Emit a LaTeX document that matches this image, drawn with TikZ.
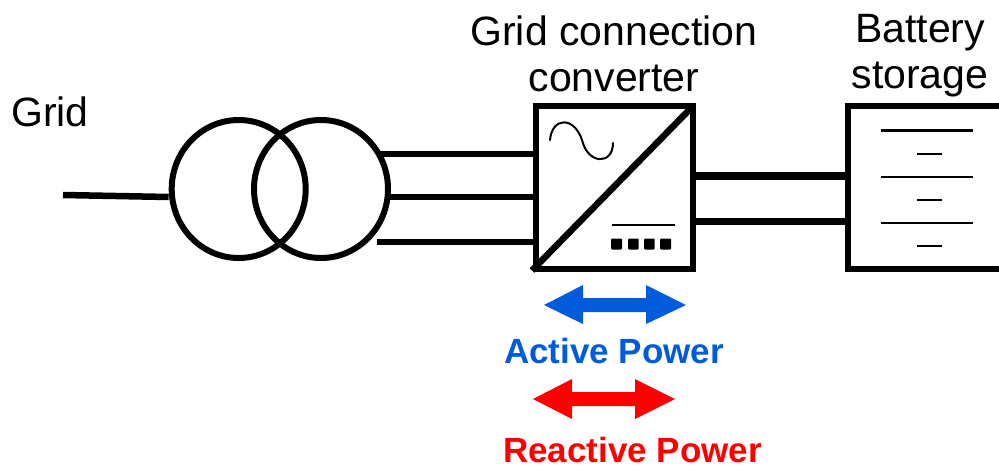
\documentclass[tikz,border=0pt]{standalone}
\usepackage{fontspec}
\usetikzlibrary{shapes.geometric}
\setmainfont{Liberation Sans}
\definecolor{activeblue}{RGB}{0,92,220}
\definecolor{reactred}{RGB}{255,0,0}
\tikzset{
  x=1pt,y=-1pt,
  wire/.style={draw=black,line width=6pt},
  thickwire/.style={draw=black,line width=8pt},
  boxed/.style={draw=black,line width=6pt,rectangle,inner sep=0pt,minimum width=157pt,minimum height=163pt},
  coil/.style={draw=black,line width=6pt,ellipse,inner sep=0pt,minimum width=134pt,minimum height=138pt},
  lbl/.style={font=\fontsize{41}{46}\selectfont,align=center,inner sep=0pt,text=black},
  plbl/.style={font=\fontsize{35}{40}\selectfont\bfseries,inner sep=0pt,anchor=base west},
  dbl/.style={fill=#1,draw=none},
  chip/.style={fill=black,rounded corners=1pt,draw=none}
}
\begin{document}
\begin{tikzpicture}
\useasboundingbox (0,0) rectangle (999,466);
% transformer
\node[coil] (t1) at (238.7,189) {};
\node[coil] (t2) at (321,189) {};
% converter and battery
\node[boxed] (conv) at (614.5,187.5) {};
\coordinate (gridend) at (63,195);
\draw[draw=black,line width=6.5pt] (gridend) -- (t1.west |- 0,197);
\coordinate (c1) at (conv.west |- 0,154);
\coordinate (c2) at (conv.west |- 0,197);
\coordinate (c3) at (conv.west |- 0,242);
\coordinate (s1) at (380,154);
\coordinate (s2) at (388,197);
\coordinate (s3) at (377,242);
\draw[wire] (s1) -- (c1);
\draw[wire] (s2) -- (c2);
\draw[wire] (s3) -- (c3);
\draw[black,line width=6.5pt] (532,270.5) -- (693,106);
\draw[black,line width=2pt,line cap=round] (550,140) .. controls (552,117) and (574,116) .. (582,140)
  .. controls (588,165) and (613,165) .. (613,143);
\draw[black,line width=1.5pt] (612,225) -- (675,225);
\foreach \a/\b in {611/622,628/638.5,644/654.5,660/671}
  \fill[chip] (\a,238.5) rectangle (\b,249.5);
% battery
\coordinate (bw) at (848,106);
\draw[black,line width=6pt] (1003,106) -- (bw) -- (848,269) -- (1003,269);
\coordinate (b1) at (848,176);
\coordinate (b2) at (848,221);
\coordinate (o1) at (conv.east |- b1);
\coordinate (o2) at (conv.east |- b2);
\draw[thickwire] (o1) -- (b1);
\draw[draw=black,line width=7pt] (o2) -- (b2);
\draw[black,line width=3pt] (881,130) -- (973,130);
\draw[black,line width=2.2pt] (881,177) -- (973,177);
\draw[black,line width=2.2pt] (881,223) -- (973,223);
\draw[black,line width=2.2pt] (917,154) -- (942,154);
\draw[black,line width=2.2pt] (917,200) -- (942,200);
\draw[black,line width=2.2pt] (917,246) -- (942,246);
% labels
\node[lbl] (lgrid) at (50,112) {Grid};
\node[lbl] (lconv) at (614,53.5) {Grid connection\\converter};
\node[lbl] (lbatt) at (920,55.5) {Battery\\storage};
% power arrows
\fill[dbl=activeblue] (544,305) -- (583,285) -- (583,298) -- (646,298) -- (646,285) -- (686,305) -- (646,324) -- (646,312) -- (583,312) -- (583,324) -- cycle;
\node[plbl,text=activeblue] (lact) at (504,363) {Active Power};
\fill[dbl=reactred] (533,399) -- (572,379) -- (572,392) -- (635,392) -- (635,379) -- (675,399) -- (635,419) -- (635,406) -- (572,406) -- (572,419) -- cycle;
\node[plbl,text=reactred] (lreact) at (503,462) {Reactive Power};
\end{tikzpicture}
\end{document}
